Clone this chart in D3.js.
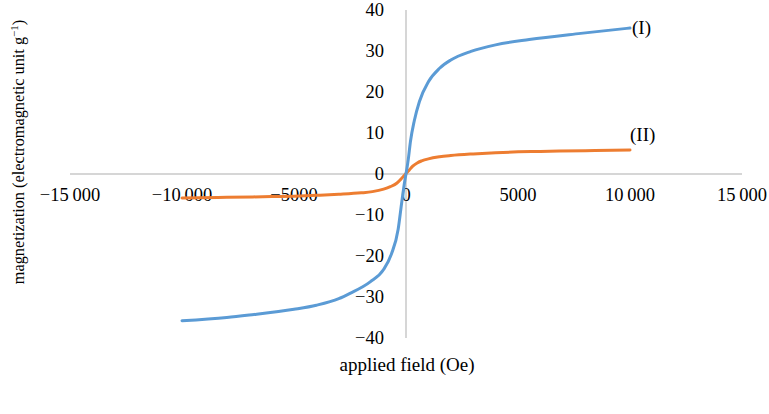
<!DOCTYPE html>
<html>
<head>
<meta charset="utf-8">
<script src="https://cdn.jsdelivr.net/npm/d3@7"></script>
<style>
    body { margin: 0; background: #fff; }
    text { font-family: "Liberation Serif", "Times New Roman", serif; fill: #000; }
</style>
</head>
<body>
<script>
    // applied field (Oe) and magnetization readings
    var fieldI = [-10000, -8000, -7000, -5000, -4000, -3000, -2500, -1600, -1000, -650, -350, -200, -50, 0,
                  100, 200, 370, 600, 1000, 1500, 2000, 2900, 4000, 5500, 7800, 10000];
    var magI = [-35.8, -35.0, -34.4, -33.0, -32.0, -30.4, -29.1, -26.3, -23.3, -19.5, -13.5, -7.3, -1.5, 0,
                3.5, 8.0, 13.0, 17.7, 22.5, 25.8, 27.8, 29.9, 31.5, 32.8, 34.3, 35.6];

    var fieldII = [-10000, -8000, -6000, -5000, -4000, -3000, -2000, -1500, -1000, -700, -400, -150, 0,
                   150, 300, 500, 700, 1000, 1500, 2000, 3000, 4000, 5000, 6000, 8000, 10000];
    var magII = [-5.85, -5.7, -5.5, -5.4, -5.2, -4.95, -4.6, -4.3, -3.7, -3.1, -2.2, -0.8, 0.1,
                 1.0, 1.9, 2.7, 3.2, 3.7, 4.2, 4.5, 4.9, 5.2, 5.4, 5.5, 5.7, 5.85];

    var xTicks = [-15000, -10000, -5000, 0, 5000, 10000, 15000];
    var xTickLabels = ["\u221215\u2009000", "\u221210\u2009000", "\u22125000", "0", "5000", "10\u2009000", "15\u2009000"];
    var yTicks = [40, 30, 20, 10, 0, -10, -20, -30, -40];
    var yTickLabels = ["40", "30", "20", "10", "0", "\u221210", "\u221220", "\u221230", "\u221240"];
    var seriesNames = ["(I)", "(II)"];

    var width = 769, height = 414;

    var x = d3.scaleLinear().domain([-15000, 15000]).range([70, 742]);
    var y = d3.scaleLinear().domain([-40, 40]).range([338, 10]);

    var svg = d3.select("body")
        .append("svg")
        .attr("width", width)
        .attr("height", height);

    // axes crossing at origin
    svg.append("line")
        .attr("x1", x(-15000)).attr("x2", x(15000))
        .attr("y1", y(0)).attr("y2", y(0))
        .attr("stroke", "#c8c8c8").attr("stroke-width", 1.5);

    svg.append("line")
        .attr("x1", x(0)).attr("x2", x(0))
        .attr("y1", y(40)).attr("y2", y(-40))
        .attr("stroke", "#c8c8c8").attr("stroke-width", 1.5);

    svg.selectAll(".xlab")
        .data(xTicks)
        .enter()
        .append("text")
        .attr("class", "xlab")
        .attr("x", d => x(d))
        .attr("y", 201)
        .attr("text-anchor", "middle")
        .attr("font-size", 18.5)
        .text((d, i) => xTickLabels[i]);

    svg.selectAll(".ylab")
        .data(yTicks)
        .enter()
        .append("text")
        .attr("class", "ylab")
        .attr("x", 384)
        .attr("y", d => y(d) + 6)
        .attr("text-anchor", "end")
        .attr("font-size", 18.5)
        .text((d, i) => yTickLabels[i]);

    var line = d3.line()
        .x(d => x(d[0]))
        .y(d => y(d[1]))
        .curve(d3.curveMonotoneX);

    var dataII = fieldII.map((h, i) => [h, magII[i]]);
    var dataI = fieldI.map((h, i) => [h, magI[i]]);

    svg.append("path")
        .datum(dataII)
        .attr("d", line)
        .attr("fill", "none")
        .attr("stroke", "#ED7D31")
        .attr("stroke-width", 3)
        .attr("stroke-linecap", "round");

    svg.append("path")
        .datum(dataI)
        .attr("d", line)
        .attr("fill", "none")
        .attr("stroke", "#5B9BD5")
        .attr("stroke-width", 3)
        .attr("stroke-linecap", "round");

    // series labels
    svg.append("text")
        .attr("x", x(10000) + 2)
        .attr("y", y(magI[magI.length - 1]) + 6)
        .attr("font-size", 19)
        .text(seriesNames[0]);

    svg.append("text")
        .attr("x", x(10000))
        .attr("y", y(magII[magII.length - 1]) - 9)
        .attr("font-size", 19)
        .text(seriesNames[1]);

    // axis titles
    svg.append("text")
        .attr("x", x(0) + 1)
        .attr("y", 371)
        .attr("text-anchor", "middle")
        .attr("font-size", 19)
        .text("applied field (Oe)");

    var yTitle = svg.append("text")
        .attr("transform", "translate(24,152) rotate(-90)")
        .attr("text-anchor", "middle")
        .attr("font-size", 16.3);
    yTitle.append("tspan").text("magnetization (electromagnetic unit g");
    yTitle.append("tspan").attr("dy", -6).attr("font-size", 11).text("\u22121");
    yTitle.append("tspan").attr("dy", 6).text(")");
</script>
</body>
</html>
